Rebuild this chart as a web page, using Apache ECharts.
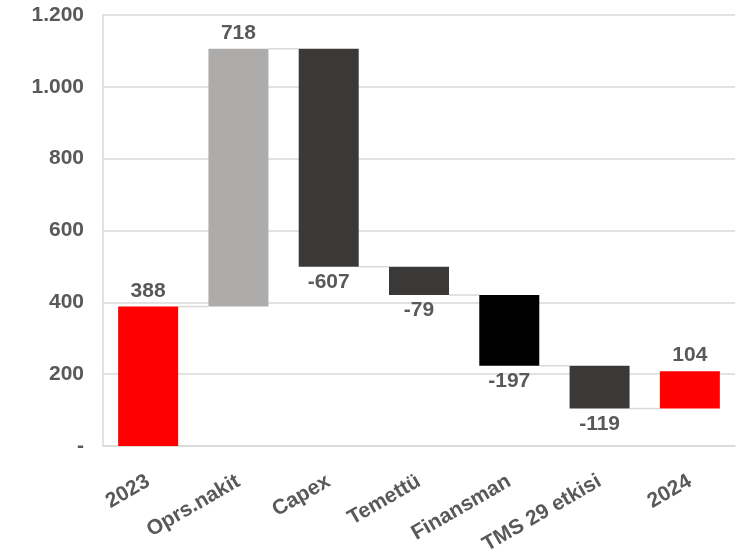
<!DOCTYPE html>
<html>
<head>
<meta charset="utf-8">
<script src="https://cdn.jsdelivr.net/npm/echarts@6/dist/echarts.min.js"></script>
<style>
  html, body { margin: 0; padding: 0; background: #fff; }
  #chart { width: 739px; height: 557px; }
</style>
</head>
<body>
<div id="chart"></div>
<script>
// kategoriler ve degerler
const categories = ['2023', 'Oprs.nakit', 'Capex', 'Temettü', 'Finansman', 'TMS 29 etkisi', '2024'];
const deltas = [388, 718, -607, -79, -197, -119, 104];
// bar alt seviyeleri
const bases = [0, 388, 499, 420, 223, 104, 104];
// bir sonraki bara baglanan cizgi seviyeleri
const connectors = [388, 1106, 499, 420, 223, 104];
const yTicks = [0, 200, 400, 600, 800, 1000, 1200];

const barColors = ['#FF0000', '#AEABAB', '#3B3838', '#3B3838', '#000000', '#3B3838', '#FF0000'];
const textColor = '#595959';
const gridColor = '#D9D9D9';
const font = '"Liberation Sans", Arial, sans-serif';

const myChart = echarts.init(document.getElementById('chart'));

const option = {
  animation: false,
  grid: { left: 103, right: 4, top: 15, bottom: 111, containLabel: false },
  xAxis: {
    type: 'category',
    data: categories,
    axisTick: { show: false },
    axisLine: { lineStyle: { color: gridColor, width: 1.5 } },
    axisLabel: {
      rotate: 30,
      interval: 0,
      margin: 34,
      color: textColor,
      fontWeight: 'bold',
      fontSize: 21,
      fontFamily: font
    }
  },
  yAxis: {
    type: 'value',
    min: yTicks[0],
    max: yTicks[yTicks.length - 1],
    interval: 200,
    axisLine: { show: true, lineStyle: { color: gridColor, width: 1.5 } },
    axisTick: { show: false },
    splitLine: { lineStyle: { color: gridColor, width: 1.5 } },
    axisLabel: {
      margin: 19,
      color: textColor,
      fontWeight: 'bold',
      fontSize: 21,
      fontFamily: font,
      formatter: v => v === 0 ? '-' : v.toLocaleString('de-DE')
    }
  },
  series: [
    {
      name: 'base',
      type: 'bar',
      stack: 'w',
      barWidth: 60,
      itemStyle: { color: 'transparent' },
      data: bases,
      silent: true
    },
    {
      name: 'delta',
      type: 'bar',
      stack: 'w',
      barWidth: 60,
      data: deltas.map((d, i) => ({
        value: Math.abs(d),
        itemStyle: { color: barColors[i] },
        label: { position: d < 0 ? 'bottom' : 'top' }
      })),
      label: {
        show: true,
        distance: 5,
        color: textColor,
        fontWeight: 'bold',
        fontSize: 21,
        fontFamily: font,
        formatter: p => String(deltas[p.dataIndex])
      }
    },
    {
      name: 'connectors',
      type: 'custom',
      silent: true,
      z: 1,
      data: connectors.map((v, i) => [i, v]),
      renderItem: (params, api) => {
        const i = api.value(0);
        const p1 = api.coord([i, api.value(1)]);
        const p2 = api.coord([i + 1, api.value(1)]);
        const half = 30;
        return {
          type: 'line',
          shape: { x1: p1[0] + half, y1: p1[1], x2: p2[0] - half, y2: p2[1] },
          style: { stroke: gridColor, lineWidth: 1.5 }
        };
      }
    }
  ]
};

myChart.setOption(option);
</script>
</body>
</html>
